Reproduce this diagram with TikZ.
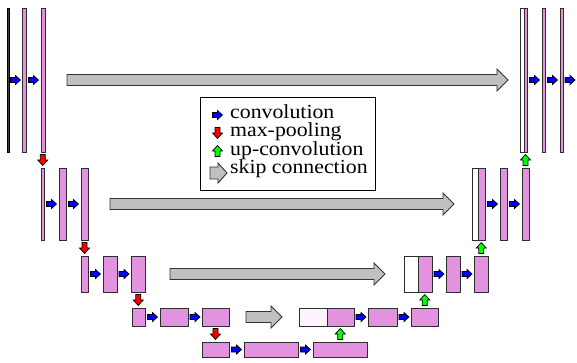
\documentclass[tikz,border=0pt]{standalone}
\usepackage{fontspec}
\setmainfont{Liberation Serif}
\newfontfamily\legfont[FakeStretch=1.09]{Liberation Serif}
\usetikzlibrary{calc}
\definecolor{unetpink}{RGB}{226,146,222}
\definecolor{paleink}{RGB}{253,244,253}
\definecolor{skipgray}{RGB}{192,192,192}
\definecolor{edgegray}{RGB}{45,45,45}
\newcommand\mkbox[6]{\node[#1, minimum width={(#5-#3)*1pt}, minimum height={(#6-#4)*1pt}] (#2) at ({(#3+#5)/2},{(#4+#6)/2}) {};}
\newcommand\skiparr[4]{\draw[skiparrow] let \p1=($(#1.east)+(#2,0)$), \p2=($(#3.west)-(#4,0)$) in
  (\x1,\y1-5.5pt) -- (\x2-11pt,\y1-5.5pt) -- (\x2-11pt,\y1-11pt) -- (\x2,\y1) -- (\x2-11pt,\y1+11pt) -- (\x2-11pt,\y1+5.5pt) -- (\x1,\y1+5.5pt) -- cycle;}
\tikzset{
  fmap/.style={rectangle, draw=edgegray, line width=0.9pt, fill=unetpink, inner sep=0pt, outer sep=0pt},
  catmap/.style={fmap, fill=white},
  palemap/.style={fmap, fill=paleink},
  inmap/.style={fmap, fill=black!75, draw=black},
  blkarrow/.style={draw=black, line width=0.7pt, line join=miter},
  skiparrow/.style={draw=black!80, line width=0.9pt, fill=skipgray, line join=miter},
  legendbox/.style={rectangle, draw=black, line width=0.9pt, fill=white, inner sep=0pt},
  legtext/.style={font=\legfont\fontsize{20}{20}\selectfont, inner sep=0pt, anchor=base west},
  conv/.pic={\draw[blkarrow, fill=blue] (-5,-2.5) -- (0,-2.5) -- (0,-4.5) -- (5,0) -- (0,4.5) -- (0,2.5) -- (-5,2.5) -- cycle;},
  pool/.pic={\draw[blkarrow, fill=red] (-2.5,-5.5) -- (2.5,-5.5) -- (2.5,0) -- (5,0) -- (0,5.5) -- (-5,0) -- (-2.5,0) -- cycle;},
  upconv/.pic={\draw[blkarrow, fill=green] (-2.5,5.5) -- (2.5,5.5) -- (2.5,0) -- (5,0) -- (0,-5.5) -- (-5,0) -- (-2.5,0) -- cycle;},
}
\begin{document}
\begin{tikzpicture}[x=1pt, y=-1pt]
\useasboundingbox (0,0) rectangle (577,362);
% level 1
\mkbox{inmap}{in}{7}{8}{9}{152}
\mkbox{fmap}{c1a}{22}{8}{26}{152}
\mkbox{fmap}{c1b}{41}{8}{45}{152}
\mkbox{catmap}{w1}{520}{8}{524}{152}
\mkbox{fmap}{u1}{524}{8}{527}{152}
\mkbox{fmap}{u1a}{542}{8}{545}{152}
\mkbox{fmap}{u1b}{560}{8}{563}{152}
\coordinate (out) at (577,80);
% level 2
\mkbox{fmap}{p1}{41}{168}{44}{240}
\mkbox{fmap}{c2a}{59}{168}{66}{240}
\mkbox{fmap}{c2b}{81}{168}{88}{240}
\mkbox{catmap}{w2}{472}{168}{478}{240}
\mkbox{fmap}{u2}{478}{168}{485}{240}
\mkbox{fmap}{u2a}{500}{168}{507}{240}
\mkbox{fmap}{u2b}{522}{168}{529}{240}
% level 3
\mkbox{fmap}{p2}{81}{256}{88}{292}
\mkbox{fmap}{c3a}{103}{256}{117}{292}
\mkbox{fmap}{c3b}{131}{256}{145}{292}
\mkbox{catmap}{w3}{404}{256}{418}{292}
\mkbox{fmap}{u3}{418}{256}{432}{292}
\mkbox{fmap}{u3a}{446}{256}{460}{292}
\mkbox{fmap}{u3b}{474}{256}{488}{292}
% level 4
\mkbox{fmap}{p3}{132}{308}{145}{326}
\mkbox{fmap}{c4a}{160}{308}{188}{326}
\mkbox{fmap}{c4b}{202}{308}{229}{326}
\mkbox{palemap}{w4}{299}{308}{327}{326}
\mkbox{fmap}{u4}{327}{308}{354}{326}
\mkbox{fmap}{u4a}{368}{308}{397}{326}
\mkbox{fmap}{u4b}{411}{308}{438}{326}
% level 5
\mkbox{fmap}{p4}{202}{342}{229}{357}
\mkbox{fmap}{c5a}{244}{342}{298}{357}
\mkbox{fmap}{c5b}{313}{342}{367}{357}
% convolutions
\foreach \a/\b in {in/c1a, c1a/c1b, u1/u1a, u1a/u1b, u1b/out,
                   p1/c2a, c2a/c2b, u2/u2a, u2a/u2b,
                   p2/c3a, c3a/c3b, u3/u3a, u3a/u3b,
                   p3/c4a, c4a/c4b, u4/u4a, u4a/u4b,
                   p4/c5a, c5a/c5b}
  \pic at ($(\a.east)!0.5!(\b.west)$) {conv};
% max-pooling
\foreach \a/\b in {c1b/p1, c2b/p2, c3b/p3, c4b/p4}
  \pic at ($(\a.south)!0.5!(\b.north)$) {pool};
% up-convolution
\foreach \a/\b in {c5b/u4, u4b/u3, u3b/u2, u2b/u1}
  \pic at ($(\a.north)!0.5!(\b.south)$) {upconv};
% skip connections
\skiparr{c1b}{22}{w1}{12}
\skiparr{c2b}{22}{w2}{18}
\skiparr{c3b}{25}{w3}{19}
\skiparr{c4b}{17}{w4}{17}
% legend
\mkbox{legendbox}{legend}{200}{97}{375}{190}
\pic at (217.5,115) {conv};
\pic at (217.5,133) {pool};
\pic at (217.5,151) {upconv};
\draw[skiparrow] (210,167) -- (218,167) -- (218,163) -- (227,173) -- (218,183) -- (218,179) -- (210,179) -- cycle;
\node[legtext] (lconv) at (230,118) {convolution};
\node[legtext] (lpool) at (230,136.5) {max-pooling};
\node[legtext] (lup) at (230,155) {up-convolution};
\node[legtext] (lskip) at (230,173.5) {skip connection};
\end{tikzpicture}
\end{document}
